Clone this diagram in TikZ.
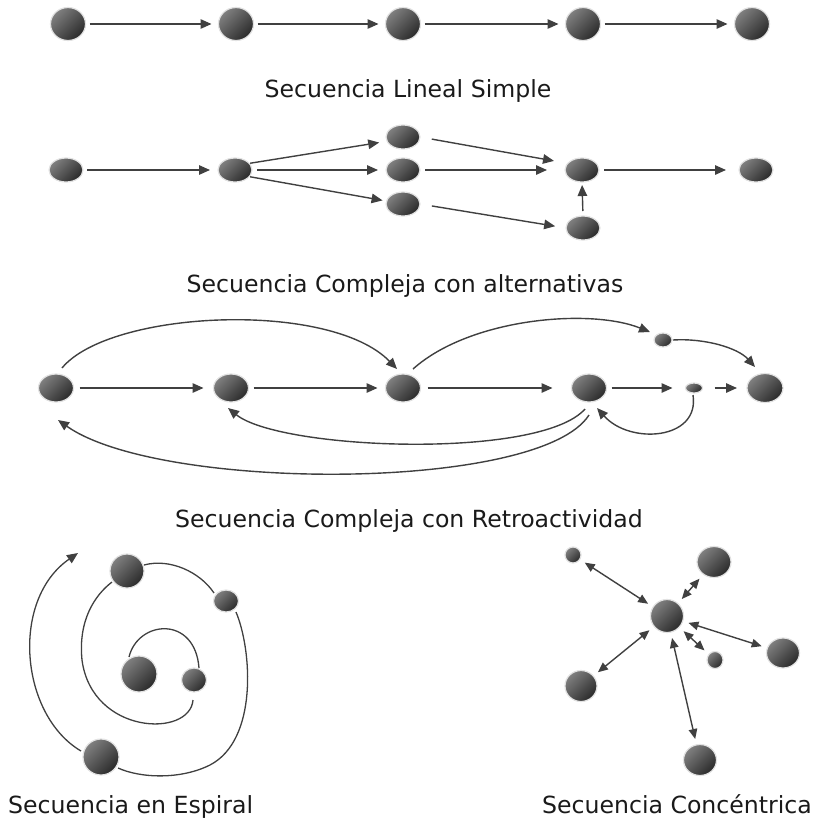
\documentclass[tikz,border=0pt]{standalone}
\usepackage{fontspec}
\setmainfont{DejaVu Sans}
\usetikzlibrary{arrows.meta,shapes.geometric}

\definecolor{ballhi}{HTML}{808080}
\definecolor{balllo}{HTML}{2A2A2A}
\definecolor{halo}{HTML}{E2E2E2}
\definecolor{ink}{HTML}{404040}
\definecolor{txt}{HTML}{1A1A1A}

\tikzset{
  ball/.style args={#1/#2}{ellipse, inner sep=0pt, outer sep=0pt,
    minimum width=#1pt, minimum height=#2pt,
    draw=halo, line width=1.2pt,
    top color=ballhi, bottom color=balllo, shading angle=45},
  arr/.style={draw=ink, line width=1.4pt, -{Triangle[length=11pt,width=9.5pt]}},
  darr/.style={draw=ink, line width=1.4pt,
    {Triangle[length=10pt,width=8.5pt]}-{Triangle[length=10pt,width=8.5pt]},
    shorten <=6pt, shorten >=6pt},
  orbit/.style={draw=ink, line width=1.3pt},
  caption/.style={text=txt, font=\fontsize{23.6}{28}\selectfont, inner sep=0pt},
}

\begin{document}
\begin{tikzpicture}[x=1pt, y=-1pt]
\useasboundingbox (0,0) rectangle (819,823);

% ---------- Secuencia lineal simple ----------
\node[ball=35/33] (r1a) at (68,24) {};
\node[ball=35/33] (r1b) at (236,24) {};
\node[ball=35/33] (r1c) at (403,24) {};
\node[ball=35/33] (r1d) at (583,24) {};
\node[ball=35/33] (r1e) at (752,24) {};
\foreach \p/\q in {r1a/r1b, r1b/r1c, r1c/r1d, r1d/r1e}
  \draw[arr, shorten <=4pt, shorten >=7pt] (\p) -- (\q);
\node[caption, anchor=base] (cap1) at (408,97) {Secuencia Lineal Simple};

% ---------- Secuencia compleja con alternativas ----------
\node[ball=34/24] (sa) at (66,170) {};
\node[ball=34/24] (sb2) at (235,170) {};
\node[ball=34/24] (su) at (403,137) {};
\node[ball=34/24] (sm2) at (403,170) {};
\node[ball=34/24] (sl) at (403,204) {};
\node[ball=34/24] (smg) at (582,170) {};
\node[ball=34/24] (sbt) at (583,228) {};
\node[ball=34/24] (sf) at (756,170) {};
\draw[arr, shorten <=4pt, shorten >=8pt] (sa) -- (sb2);
\draw[arr, shorten <=1pt, shorten >=8pt] (sb2.25) -- (su.195);
\draw[arr, shorten <=5pt, shorten >=8pt] (sb2) -- (sm2);
\draw[arr, shorten <=1pt, shorten >=4pt] (sb2.-25) -- (sl.170);
\draw[arr, shorten <=12pt, shorten >=14pt] (su.east) -- (smg.155);
\draw[arr, shorten <=5pt, shorten >=18pt] (sm2) -- (smg);
\draw[arr, shorten <=12pt, shorten >=11pt] (sl.east) -- (sbt.west);
\draw[arr, shorten <=5pt, shorten >=3pt] (sbt.north) -- (smg.south);
\draw[arr, shorten <=5pt, shorten >=13pt] (smg) -- (sf);
\node[caption, anchor=base] (cap2) at (405,292) {Secuencia Compleja con alternativas};

% ---------- Secuencia compleja con retroactividad ----------
\node[ball=35/28] (n1) at (56,388) {};
\node[ball=35/28] (n2) at (231,388) {};
\node[ball=35/28] (n3) at (403,388) {};
\node[ball=35/28] (n4) at (589,388) {};
\node[ball=17/10] (nsm) at (694,388) {};
\node[ball=18/14] (nts) at (663,340) {};
\node[ball=36/29] (nfin) at (765,388) {};
\draw[arr, shorten <=6pt, shorten >=10pt] (n1) -- (n2);
\draw[arr, shorten <=5pt, shorten >=8pt] (n2) -- (n3);
\draw[arr, shorten <=7pt, shorten >=19pt] (n3) -- (n4);
\draw[arr, shorten <=5pt, shorten >=13pt] (n4) -- (nsm);
\draw[arr, shorten <=12pt, shorten >=10pt] (nsm) -- (nfin);
% arcs over the top
\draw[arr] ([shift={(6,-20)}]n1.center) .. controls (110,310) and (330,300) .. ([shift={(-6,-19)}]n3.center);
\draw[arr] ([shift={(10,-19)}]n3.center) .. controls (470,318) and (590,308) .. ([shift={(-13,-8)}]nts.center);
\draw[arr] ([shift={(10,0)}]nts.center) .. controls (705,338) and (738,348) .. ([shift={(-10,-21)}]nfin.center);
% feedback arcs underneath
\draw[arr] ([shift={(-4,21)}]n4.center) .. controls (540,460) and (280,450) .. ([shift={(-3,20)}]n2.center);
\draw[arr] ([shift={(0,27)}]n4.center) .. controls (540,492) and (160,492) .. ([shift={(2,32)}]n1.center);
\draw[arr] ([shift={(-1,7)}]nsm.center) .. controls (700,440) and (630,445) .. ([shift={(8,20)}]n4.center);
\node[caption, anchor=base] (cap3) at (409,527) {Secuencia Compleja con Retroactividad};

% ---------- Secuencia en espiral ----------
\node[ball=36/36] (pc) at (139,674) {};
\node[ball=25/24] (pr) at (194,680) {};
\node[ball=34/34] (pt) at (127,571) {};
\node[ball=25/22] (prt) at (226,601) {};
\node[ball=36/36] (pb) at (101,757) {};
\coordinate (ptip) at (78,553);
\draw[orbit] ([shift={(-10,-17)}]pc.center) .. controls (138,620) and (195,615) .. ([shift={(5,-12)}]pr.center);
\draw[orbit] ([shift={(-1,20)}]pr.center) .. controls (190,738) and (92,735) .. (82,660)
  .. controls (78,620) and (95,595) .. ([shift={(-15,11)}]pt.center);
\draw[orbit] ([shift={(17,-6)}]pt.center) .. controls (170,558) and (200,572) .. ([shift={(-12,-8)}]prt.center);
\draw[orbit] ([shift={(10,11)}]prt.center) .. controls (252,650) and (258,740) .. (210,765)
  .. controls (180,780) and (140,778) .. ([shift={(17,11)}]pb.center);
\draw[orbit, -{Triangle[length=11pt,width=9.5pt]}] ([shift={(-20,-6)}]pb.center) .. controls (20,715) and (10,600) .. (ptip);
\node[caption, anchor=base west] (cap4) at (8,813) {Secuencia en Espiral};

% ---------- Secuencia concentrica ----------
\node[ball=33/33] (cc) at (667,616) {};
\node[ball=16/16] (ctl) at (573,555) {};
\node[ball=34/31] (ctr) at (714,562) {};
\node[ball=33/30] (cr) at (783,653) {};
\node[ball=16/17] (cs) at (715,660) {};
\node[ball=32/31] (cl) at (581,686) {};
\node[ball=33/31] (cb) at (700,760) {};
\foreach \t in {ctl, ctr, cr, cs, cl, cb}
  \draw[darr] (cc) -- (\t);
\node[caption, anchor=base east] (cap5) at (812,813) {Secuencia Concéntrica};

\end{tikzpicture}
\end{document}
